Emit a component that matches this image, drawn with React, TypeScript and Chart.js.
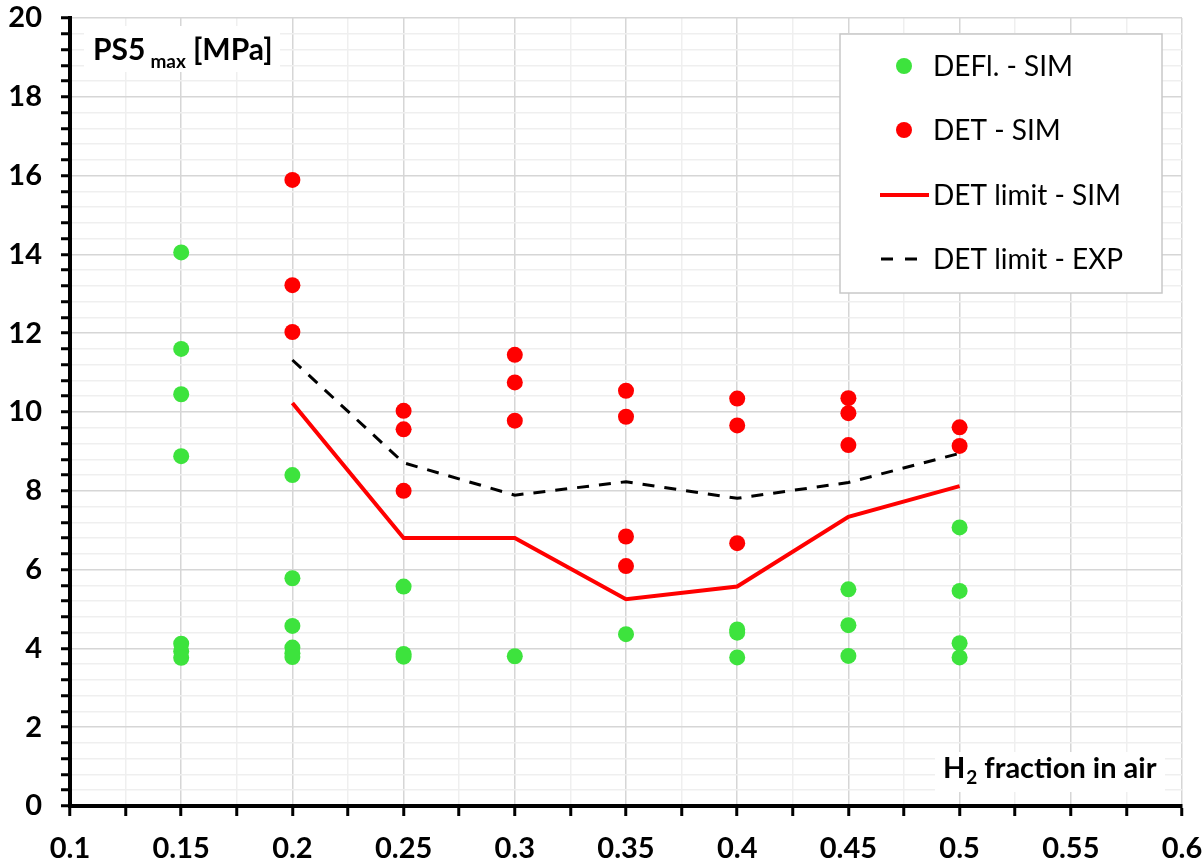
import React, { useEffect, useRef } from 'react';
import { Chart, registerables } from 'chart.js';

Chart.register(...registerables);

// ---- data ----
const seriesNames = ['DEFl. - SIM', 'DET - SIM', 'DET limit - SIM', 'DET limit - EXP'];

const deflX = [
  0.15, 0.15, 0.15, 0.15, 0.15, 0.15, 0.15,
  0.2, 0.2, 0.2, 0.2, 0.2, 0.2,
  0.25, 0.25, 0.25,
  0.3,
  0.35,
  0.4, 0.4, 0.4,
  0.45, 0.45, 0.45,
  0.5, 0.5, 0.5, 0.5,
];
const deflY = [
  14.05, 11.6, 10.45, 8.88, 4.12, 3.93, 3.76,
  8.4, 5.78, 4.57, 4.02, 3.88, 3.78,
  5.57, 3.86, 3.79,
  3.8,
  4.36,
  4.48, 4.4, 3.77,
  5.5, 4.59, 3.81,
  7.07, 5.46, 4.13, 3.77,
];

const detX = [
  0.2, 0.2, 0.2,
  0.25, 0.25, 0.25,
  0.3, 0.3, 0.3,
  0.35, 0.35, 0.35, 0.35,
  0.4, 0.4, 0.4,
  0.45, 0.45, 0.45,
  0.5, 0.5,
];
const detY = [
  15.89, 13.22, 12.03,
  10.03, 9.56, 8.0,
  11.45, 10.75, 9.78,
  10.54, 9.88, 6.84, 6.09,
  10.34, 9.66, 6.67,
  10.35, 9.97, 9.16,
  9.61, 9.14,
];

const limitX = [0.2, 0.25, 0.3, 0.35, 0.4, 0.45, 0.5];
const limitSimY = [10.23, 6.8, 6.8, 5.25, 5.57, 7.34, 8.12];
const limitExpY = [11.32, 8.71, 7.89, 8.23, 7.81, 8.21, 8.95];

const xAxisMin = 0.1;
const xAxisMax = 0.6;
const xMajorStep = 0.05;
const xMinorStep = 0.025;
const yAxisMin = 0;
const yAxisMax = 20;
const yMajorStep = 2;
const yMinorStep = 0.4;

const yTitleMain = 'PS5';
const yTitleSub = 'max';
const yTitleUnit = '[MPa]';
const xTitleMain = 'H';
const xTitleSub = '2';
const xTitleRest = 'fraction in air';

// ---- styles ----
const GREEN = '#3de33d';
const RED = '#ff0000';
const BLACK = '#000000';
const FONT = 'Lato, "Open Sans", "Liberation Sans", sans-serif';

const isMultiple = (v: number, step: number) => Math.abs(v / step - Math.round(v / step)) < 1e-6;
const pts = (xs: number[], ys: number[]) => xs.map((x, i) => ({ x, y: ys[i] }));

const overlayPlugin = {
  id: 'overlay',
  afterDatasetsDraw(chart: any) {
    const ctx = chart.ctx as CanvasRenderingContext2D;
    ctx.save();

    // Y title with white background
    ctx.fillStyle = '#ffffff';
    ctx.fillRect(84, 26, 196, 46);
    ctx.fillStyle = BLACK;
    ctx.textBaseline = 'alphabetic';
    ctx.textAlign = 'left';
    let x = 93;
    const by = 60;
    ctx.font = `bold 30px ${FONT}`;
    ctx.fillText(yTitleMain, x, by);
    x += ctx.measureText(yTitleMain).width + 5;
    ctx.font = `bold 19px ${FONT}`;
    ctx.fillText(yTitleSub, x, by + 8);
    x += ctx.measureText(yTitleSub).width + 7;
    ctx.font = `bold 30px ${FONT}`;
    ctx.fillText(yTitleUnit, x, by);

    // X title with white background
    ctx.fillStyle = '#ffffff';
    ctx.fillRect(935, 752, 230, 40);
    ctx.fillStyle = BLACK;
    let xx = 943;
    const xb = 778;
    ctx.font = `bold 29px ${FONT}`;
    ctx.fillText(xTitleMain, xx, xb);
    xx += ctx.measureText(xTitleMain).width + 1;
    ctx.font = `bold 19px ${FONT}`;
    ctx.fillText(xTitleSub, xx, xb + 6);
    xx += ctx.measureText(xTitleSub).width + 7;
    ctx.font = `bold 29px ${FONT}`;
    ctx.fillText(xTitleRest, xx, xb);

    // Legend box
    const lx = 840, ly = 34, lw = 322, lh = 259;
    ctx.fillStyle = '#ffffff';
    ctx.fillRect(lx, ly, lw, lh);
    ctx.strokeStyle = '#c8c8c8';
    ctx.lineWidth = 1.5;
    ctx.strokeRect(lx, ly, lw, lh);

    const rows = [66, 130, 195, 259];
    const textX = 933;
    ctx.font = `28px ${FONT}`;
    ctx.textBaseline = 'middle';
    // row 0: green dot
    ctx.beginPath();
    ctx.arc(904, rows[0], 8, 0, Math.PI * 2);
    ctx.fillStyle = GREEN;
    ctx.fill();
    // row 1: red dot
    ctx.beginPath();
    ctx.arc(904, rows[1], 8, 0, Math.PI * 2);
    ctx.fillStyle = RED;
    ctx.fill();
    // row 2: red line
    ctx.beginPath();
    ctx.strokeStyle = RED;
    ctx.lineWidth = 4;
    ctx.setLineDash([]);
    ctx.moveTo(880, rows[2]);
    ctx.lineTo(929, rows[2]);
    ctx.stroke();
    // row 3: dashed black
    ctx.beginPath();
    ctx.strokeStyle = BLACK;
    ctx.lineWidth = 3;
    ctx.setLineDash([12, 12]);
    ctx.moveTo(881, rows[3]);
    ctx.lineTo(929, rows[3]);
    ctx.stroke();
    ctx.setLineDash([]);

    ctx.fillStyle = BLACK;
    seriesNames.forEach((name, i) => {
      ctx.fillText(name, textX, rows[i] + 1);
    });

    ctx.restore();
  },
};

export default function App() {
  const canvasRef = useRef<HTMLCanvasElement | null>(null);

  useEffect(() => {
    if (!canvasRef.current) return;
    const chart = new Chart(canvasRef.current, {
      type: 'scatter',
      data: {
        datasets: [
          {
            label: seriesNames[0],
            data: pts(deflX, deflY),
            backgroundColor: GREEN,
            borderColor: GREEN,
            pointRadius: 8,
            pointHoverRadius: 8,
            borderWidth: 0,
            order: 3,
          },
          {
            label: seriesNames[1],
            data: pts(detX, detY),
            backgroundColor: RED,
            borderColor: RED,
            pointRadius: 8,
            pointHoverRadius: 8,
            borderWidth: 0,
            order: 2,
          },
          {
            label: seriesNames[2],
            data: pts(limitX, limitSimY),
            showLine: true,
            borderColor: RED,
            backgroundColor: RED,
            borderWidth: 4,
            pointRadius: 0,
            tension: 0,
            order: 1,
          },
          {
            label: seriesNames[3],
            data: pts(limitX, limitExpY),
            showLine: true,
            borderColor: BLACK,
            backgroundColor: BLACK,
            borderWidth: 3,
            borderDash: [12, 10],
            pointRadius: 0,
            tension: 0,
            order: 0,
          },
        ] as any,
      },
      options: {
        animation: false,
        responsive: false,
        maintainAspectRatio: false,
        layout: { padding: { top: 18, right: 21, left: 0, bottom: 0 } },
        plugins: {
          legend: { display: false },
          tooltip: { enabled: false },
          title: { display: false },
        },
        scales: {
          x: {
            type: 'linear',
            min: xAxisMin,
            max: xAxisMax,
            afterFit: (scale: any) => {
              scale.height = 58;
              scale.paddingLeft = 0;
              scale.paddingRight = 0;
            },
            border: { display: true, color: BLACK, width: 4 },
            grid: {
              color: (c: any) => (c.tick && isMultiple(c.tick.value, xMajorStep) ? '#d6d6d6' : '#efefef'),
              lineWidth: 1.5,
              drawTicks: true,
              tickLength: 10,
              tickColor: BLACK,
              tickWidth: 3,
            },
            ticks: {
              stepSize: xMinorStep,
              autoSkip: false,
              maxRotation: 0,
              minRotation: 0,
              padding: 15,
              color: BLACK,
              font: { family: FONT, size: 29, weight: 'bold' },
              callback: (v: any) => (isMultiple(Number(v), xMajorStep) ? String(parseFloat(Number(v).toFixed(3))) : ''),
            },
          },
          y: {
            type: 'linear',
            min: yAxisMin,
            max: yAxisMax,
            afterFit: (scale: any) => {
              scale.width = 70;
              scale.paddingTop = 0;
              scale.paddingBottom = 0;
            },
            border: { display: true, color: BLACK, width: 4 },
            grid: {
              color: (c: any) => (c.tick && isMultiple(c.tick.value, yMajorStep) ? '#d6d6d6' : '#efefef'),
              lineWidth: 1.5,
              drawTicks: true,
              tickLength: 9,
              tickColor: BLACK,
              tickWidth: 3,
            },
            ticks: {
              stepSize: yMinorStep,
              autoSkip: false,
              padding: 19,
              color: BLACK,
              font: { family: FONT, size: 29, weight: 'bold' },
              callback: (v: any) => (isMultiple(Number(v), yMajorStep) ? String(Math.round(Number(v))) : ''),
            },
          },
        },
      } as any,
      plugins: [overlayPlugin],
    });
    return () => chart.destroy();
  }, []);

  return (
    <div style={{ position: 'fixed', left: 0, top: 0, width: 1203, height: 864, background: '#ffffff' }}>
      <canvas ref={canvasRef} width={1203} height={864} style={{ display: 'block' }} />
    </div>
  );
}
